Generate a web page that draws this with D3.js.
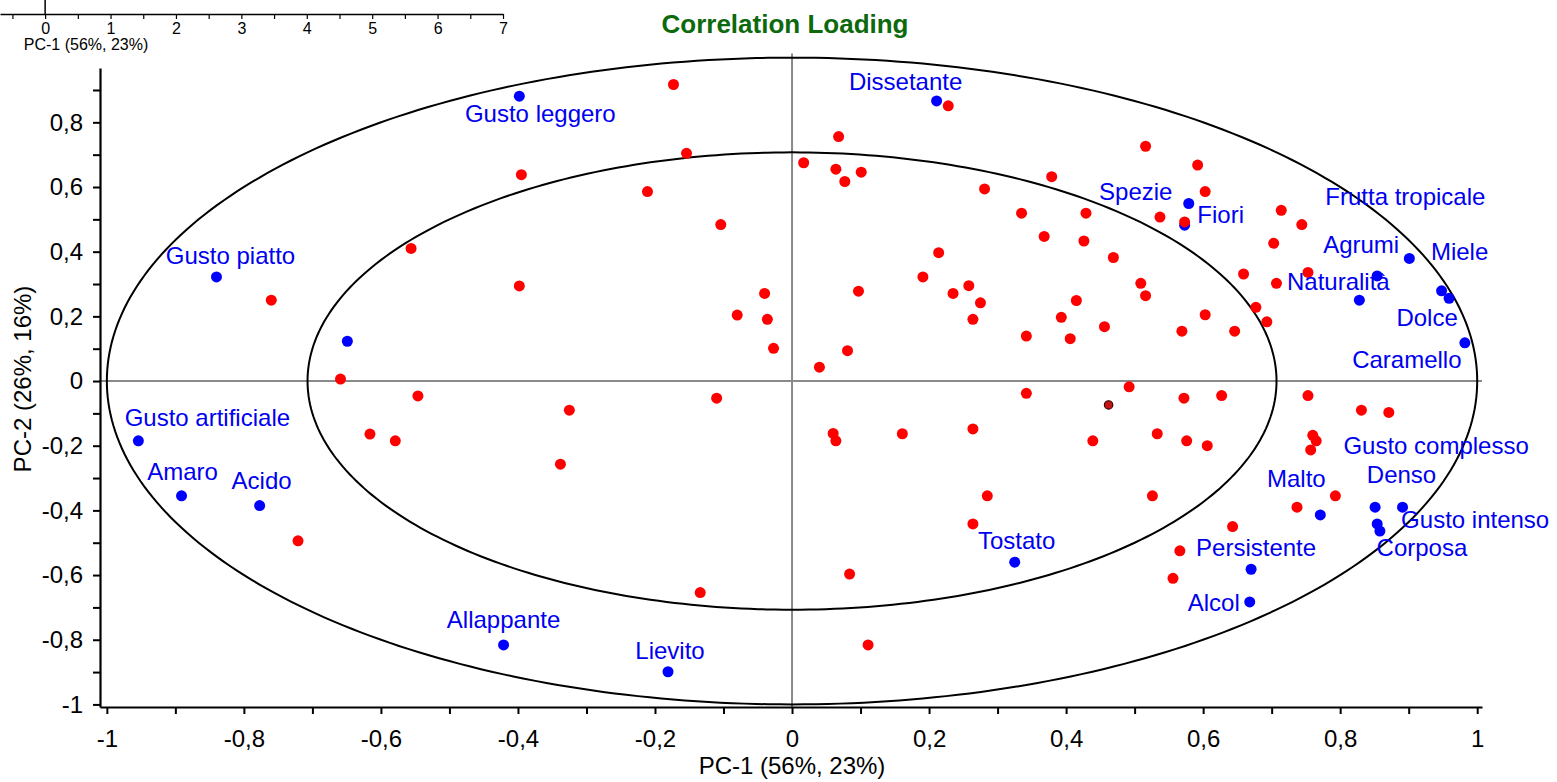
<!DOCTYPE html>
<html>
<head>
<meta charset="utf-8">
<script src="https://cdn.jsdelivr.net/npm/d3@7"></script>
<style>
  html, body { margin: 0; padding: 0; background: #ffffff; }
  svg { display: block; font-family: "Liberation Sans", Arial, Helvetica, sans-serif; }
</style>
</head>
<body>
<svg id="chart" width="1557" height="782"></svg>
<script>
// ---- Sensory attributes (blue loadings) ----
const attributeNames = [
  "Gusto leggero", "Dissetante", "Spezie", "Fiori", "Frutta tropicale",
  "Agrumi", "Naturalità", "Miele", "Dolce", "Caramello",
  "Gusto piatto", "", "Gusto artificiale", "Amaro", "Acido",
  "Allappante", "Lievito", "Tostato", "Persistente", "Alcol",
  "Malto", "Gusto complesso", "Denso", "Gusto intenso", "Corposa"
];
const attributePC1 = [
  -0.398, 0.211, 0.579, 0.573, 0.901,
   0.854, 0.828, 0.948, 0.959, 0.982,
  -0.840, -0.649, -0.954, -0.891, -0.777,
  -0.421, -0.181, 0.325, 0.670, 0.668,
   0.771, 0.851, 0.891, 0.854, 0.858
];
const attributePC2 = [
   0.881, 0.866, 0.549, 0.482, 0.379,
   0.325, 0.250, 0.279, 0.256, 0.118,
   0.322, 0.123, -0.185, -0.355, -0.385,
  -0.816, -0.899, -0.560, -0.582, -0.683,
  -0.414, -0.390, -0.390, -0.442, -0.464
];

// ---- Consumer loadings (red) ----
const consumerPC1 = [
  -0.760, -0.659, -0.546, -0.616, -0.579, -0.721, -0.325, -0.338, -0.110, -0.134,
  -0.080, -0.036, -0.027, -0.173, -0.154, -0.395, -0.211, -0.104, -0.556, -0.398,
  -0.040,  0.040,  0.081,  0.097,  0.068,  0.017,  0.064,  0.077,  0.101,  0.228,
   0.516,  0.592,  0.603,  0.379,  0.281,  0.335,  0.429,  0.537,  0.368,  0.426,
   0.469,  0.214,  0.191,  0.258,  0.235,  0.275,  0.264,  0.509,  0.516,  0.415,
   0.393,  0.456,  0.406,  0.342,  0.659,  0.753,  0.707,  0.677,  0.693,  0.603,
   0.569,  0.646,  0.703,  0.714,  0.744,  0.573,  0.342,  0.492,  0.572,  0.627,
   0.753,  0.060,  0.064,  0.161,  0.264,  0.439,  0.533,  0.576,  0.606,  0.760,
   0.765,  0.757,  0.831,  0.871,  0.285,  0.526,  0.264,  0.737,  0.643,  0.793,
   0.566,  0.556,  0.111,  0.084
];
const consumerPC2 = [
   0.250,  0.006, -0.046, -0.164, -0.185, -0.494, -0.090, -0.257, -0.053, -0.654,
   0.204,  0.191,  0.101,  0.917,  0.704,  0.638,  0.586,  0.484,  0.410,  0.294,
   0.271,  0.043,  0.094,  0.278,  0.756,  0.675,  0.655,  0.617,  0.646,  0.851,
   0.726,  0.668,  0.586,  0.632,  0.594,  0.519,  0.519,  0.507,  0.447,  0.433,
   0.382,  0.397,  0.322,  0.295,  0.271,  0.242,  0.191,  0.302,  0.264,  0.249,
   0.197,  0.168,  0.131,  0.139,  0.331,  0.336,  0.302,  0.228,  0.183,  0.205,
   0.154,  0.154,  0.426,  0.528,  0.484,  0.492, -0.038, -0.018, -0.053, -0.045,
  -0.045, -0.162, -0.185, -0.163, -0.148, -0.185, -0.163, -0.185, -0.200, -0.168,
  -0.185, -0.213, -0.090, -0.097, -0.355, -0.355, -0.442, -0.390, -0.450, -0.355,
  -0.525, -0.610, -0.816, -0.597
];

// ---- Highlighted consumer ----
const highlightPC1 = [0.462];
const highlightPC2 = [-0.074];

// ---- Axis ticks ----
const xMajorTicks = [-1, -0.8, -0.6, -0.4, -0.2, 0, 0.2, 0.4, 0.6, 0.8, 1];
const xTickLabels = ["-1", "-0,8", "-0,6", "-0,4", "-0,2", "0", "0,2", "0,4", "0,6", "0,8", "1"];
const xMinorTicks = [-0.9, -0.7, -0.5, -0.3, -0.1, 0.1, 0.3, 0.5, 0.7, 0.9];
const yMajorTicks = [-1, -0.8, -0.6, -0.4, -0.2, 0, 0.2, 0.4, 0.6, 0.8];
const yTickLabels = ["-1", "-0,8", "-0,6", "-0,4", "-0,2", "0", "0,2", "0,4", "0,6", "0,8"];
const yMinorTicks = [-0.9, -0.7, -0.5, -0.3, -0.1, 0.1, 0.3, 0.5, 0.7, 0.9];

// Neighbouring scores panel (only its PC-1 axis is visible)
const scoreMajorTicks = [0, 1, 2, 3, 4, 5, 6, 7];
const scoreTickLabels = ["0", "1", "2", "3", "4", "5", "6", "7"];
const scoreMinorTicks = [-0.5, 0.5, 1.5, 2.5, 3.5, 4.5, 5.5, 6.5];

// Label placement relative to each attribute point (centre dx, baseline dy), in pixels
const labelOffsets = [
  [21, 26], [-31, -11], [-53, -3], [36, -2], [-4, -53],
  [-16, -23], [-21, -10], [18, -31], [-22, 28], [-58, 25],
  [14, -13], [0, 0], [69, -15], [1, -16], [2, -17],
  [0, -17], [2, -13], [2, -13], [5, -13], [-36, 9],
  [-24, -28], [61, -53], [-1, -24], [98, 4], [42, 25]
];

// ---------------------------------------------------------------
const svg = d3.select("#chart");
const FONT = 24;

const x = d3.scaleLinear().domain([-1.010, 1.007]).range([100, 1482]);
const y = d3.scaleLinear().domain([-1.008, 0.968]).range([707, 68]);

const attributes = attributeNames.map((n, i) => ({
  name: n, pc1: attributePC1[i], pc2: attributePC2[i], off: labelOffsets[i]
}));
const consumers = consumerPC1.map((v, i) => ({ pc1: v, pc2: consumerPC2[i] }));
const highlighted = highlightPC1.map((v, i) => ({ pc1: v, pc2: highlightPC2[i] }));

// Title
svg.append("text")
  .attr("x", 785).attr("y", 33)
  .attr("text-anchor", "middle")
  .style("font-size", "26px").style("font-weight", "bold")
  .style("fill", "#0c690c")
  .text("Correlation Loading");

// Zero cross-hair
svg.append("line")
  .attr("x1", x(-1.010)).attr("x2", x(1.007))
  .attr("y1", y(0)).attr("y2", y(0))
  .attr("stroke", "#8a8a8a").attr("stroke-width", 2);
svg.append("line")
  .attr("x1", x(0)).attr("x2", x(0))
  .attr("y1", y(1.013)).attr("y2", y(-1.008))
  .attr("stroke", "#8a8a8a").attr("stroke-width", 2);

// Correlation ellipses (100% and 50% explained variance)
const circleLine = d3.line().x(d => x(d[0])).y(d => y(d[1]));
[1, Math.sqrt(0.5)].forEach(r => {
  const pts = d3.range(0, 361).map(a => {
    const t = a * Math.PI / 180;
    return [r * Math.cos(t), r * Math.sin(t)];
  });
  svg.append("path")
    .attr("d", circleLine(pts))
    .attr("fill", "none")
    .attr("stroke", "#000").attr("stroke-width", 2);
});

// Axes
const xLabelMap = new Map(xMajorTicks.map((v, i) => [v, xTickLabels[i]]));
const yLabelMap = new Map(yMajorTicks.map((v, i) => [v, yTickLabels[i]]));

const xAxis = d3.axisBottom(x)
  .tickValues(xMajorTicks.concat(xMinorTicks))
  .tickFormat(d => xLabelMap.get(d) || "")
  .tickSizeInner(7).tickSizeOuter(0).tickPadding(16);
const yAxis = d3.axisLeft(y)
  .tickValues(yMajorTicks.concat(yMinorTicks))
  .tickFormat(d => yLabelMap.get(d) || "")
  .tickSizeInner(7).tickSizeOuter(0).tickPadding(10);

const gx = svg.append("g").attr("transform", `translate(0,${y(-1.008)})`).call(xAxis);
const gy = svg.append("g").attr("transform", `translate(${x(-1.010)},0)`).call(yAxis);
[gx, gy].forEach(g => {
  g.select(".domain").attr("stroke", "#000").attr("stroke-width", 2.2);
  g.selectAll(".tick line").attr("stroke", "#000").attr("stroke-width", 2);
  g.selectAll(".tick text")
    .attr("fill", "#000")
    .style("font-size", FONT + "px")
    .style("font-family", "'Liberation Sans', Arial, sans-serif");
});

// Axis titles
svg.append("text")
  .attr("x", 792).attr("y", 774)
  .attr("text-anchor", "middle")
  .style("font-size", FONT + "px").style("fill", "#000")
  .text("PC-1 (56%, 23%)");
svg.append("text")
  .attr("transform", "translate(31,379) rotate(-90)")
  .attr("text-anchor", "middle")
  .style("font-size", FONT + "px").style("fill", "#000")
  .text("PC-2 (26%, 16%)");

// Attribute points
svg.append("g").selectAll("circle")
  .data(attributes).join("circle")
  .attr("cx", d => x(d.pc1)).attr("cy", d => y(d.pc2))
  .attr("r", 5.5).attr("fill", "#0000ff");

// Consumer points
svg.append("g").selectAll("circle")
  .data(consumers).join("circle")
  .attr("cx", d => x(d.pc1)).attr("cy", d => y(d.pc2))
  .attr("r", 5.5).attr("fill", "#ff0000");

svg.append("g").selectAll("circle")
  .data(highlighted).join("circle")
  .attr("cx", d => x(d.pc1)).attr("cy", d => y(d.pc2))
  .attr("r", 4.2).attr("fill", "#c41414")
  .attr("stroke", "#3a0000").attr("stroke-width", 1.2);

// Attribute labels
svg.append("g").selectAll("text")
  .data(attributes.filter(d => d.name)).join("text")
  .attr("x", d => x(d.pc1) + d.off[0])
  .attr("y", d => y(d.pc2) + d.off[1])
  .attr("text-anchor", "middle")
  .style("font-size", FONT + "px")
  .style("fill", "#0000f0")
  .text(d => d.name);

// Neighbouring scores panel: visible x-axis strip
const xs = d3.scaleLinear().domain([-0.69, 7]).range([0, 503]);
const scoreLabelMap = new Map(scoreMajorTicks.map((v, i) => [v, scoreTickLabels[i]]));
const gs = svg.append("g").attr("transform", "translate(0,14)")
  .call(d3.axisBottom(xs)
    .tickValues(scoreMajorTicks.concat(scoreMinorTicks))
    .tickFormat(d => scoreLabelMap.get(d) || "")
    .tickSizeInner(5).tickSizeOuter(0).tickPadding(4));
gs.select(".domain").attr("stroke", "#000").attr("stroke-width", 1.5);
gs.selectAll(".tick line").attr("stroke", "#000").attr("stroke-width", 1.2);
gs.selectAll(".tick text").attr("fill", "#000").style("font-size", "16px")
  .style("font-family", "'Liberation Sans', Arial, sans-serif");
svg.append("line")
  .attr("x1", xs(0)).attr("x2", xs(0)).attr("y1", 0).attr("y2", 14)
  .attr("stroke", "#000").attr("stroke-width", 1.5);
svg.append("text")
  .attr("x", 86).attr("y", 50)
  .attr("text-anchor", "middle")
  .style("font-size", "16px").style("fill", "#000")
  .text("PC-1 (56%, 23%)");
</script>
</body>
</html>
